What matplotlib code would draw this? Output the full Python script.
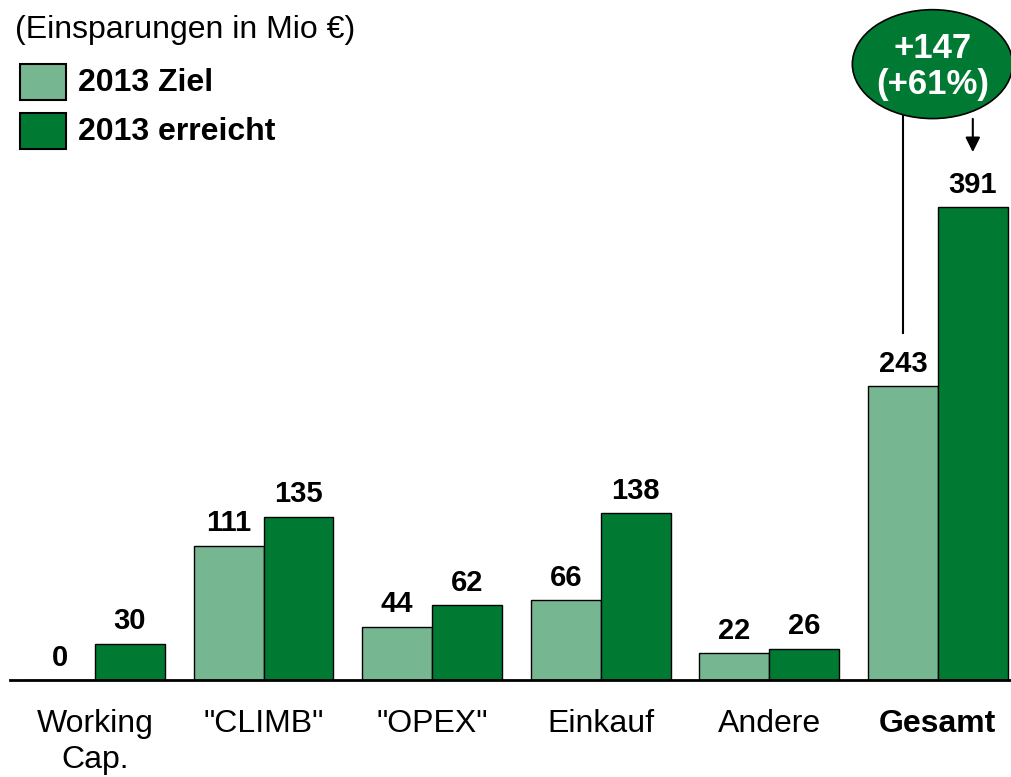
import numpy as np
import matplotlib.pyplot as plt
from matplotlib.patches import Ellipse, Rectangle

plt.rcParams['font.family'] = ['Liberation Sans', 'DejaVu Sans']

categories = ["Working\nCap.", '"CLIMB"', '"OPEX"', "Einkauf", "Andere", "Gesamt"]
ziel = [0, 111, 44, 66, 22, 243]
erreicht = [30, 135, 62, 138, 26, 391]
series_names = ["2013 Ziel", "2013 erreicht"]
LIGHT = "#76B792"
DARK = "#007A33"
WIDTH = 0.415
W, H = 1012, 777

fig = plt.figure(figsize=(W / 100, H / 100), dpi=100)
ax = fig.add_axes([10 / W, 97 / H, 1002 / W, 680 / H])

x = np.arange(len(categories))
ax.bar(x - WIDTH / 2, ziel, WIDTH, color=LIGHT, edgecolor="black", linewidth=1)
ax.bar(x + WIDTH / 2, erreicht, WIDTH, color=DARK, edgecolor="black", linewidth=1)

for xi, v in zip(x, ziel):
    ax.annotate(str(v), (xi - WIDTH / 2, v), xytext=(0, 6), textcoords="offset points",
                ha="center", va="bottom", fontsize=21, fontweight="bold")
for xi, v in zip(x, erreicht):
    ax.annotate(str(v), (xi + WIDTH / 2, v), xytext=(0, 6), textcoords="offset points",
                ha="center", va="bottom", fontsize=21, fontweight="bold")

ax.set_xlim(-0.504, 5.44)
ax.set_ylim(0, 562)
for s in ["top", "right", "left"]:
    ax.spines[s].set_visible(False)
ax.spines["bottom"].set_linewidth(2)
ax.set_yticks([])
ax.set_xticks(x)
ax.set_xticklabels(categories, fontsize=23, linespacing=1.25)
ax.tick_params(axis="x", length=0, pad=21)
ax.get_xticklabels()[-1].set_fontweight("bold")

# difference bubble
ax.add_patch(Ellipse((4.968, 509), 0.95, 90, facecolor=DARK, edgecolor="black",
                     linewidth=1.2, clip_on=False, zorder=3))
ax.text(4.968, 507, "+147\n(+61%)", color="white", fontsize=25, fontweight="bold",
        ha="center", va="center", linespacing=1.12, zorder=4)
ax.plot([5 - WIDTH / 2] * 2, [287, 466], color="black", linewidth=1.5, zorder=2)
ax.annotate("", xy=(5 + WIDTH / 2, 434), xytext=(5 + WIDTH / 2, 466),
            arrowprops=dict(arrowstyle="-|>", color="black", lw=1.5, mutation_scale=22))

fig.text(15 / W, 1 - 30 / H, "(Einsparungen in Mio €)", fontsize=23, va="center")
for i, (name, col) in enumerate(zip(series_names, [LIGHT, DARK])):
    top = 64 + i * 49
    fig.patches.append(Rectangle((20 / W, 1 - (top + 36) / H), 46 / W, 36 / H,
                                 facecolor=col, edgecolor="black", linewidth=1.5,
                                 transform=fig.transFigure))
    fig.text(78 / W, 1 - (top + 19) / H, name, fontsize=23, fontweight="bold", va="center")

fig.savefig("out.png", dpi=100)
